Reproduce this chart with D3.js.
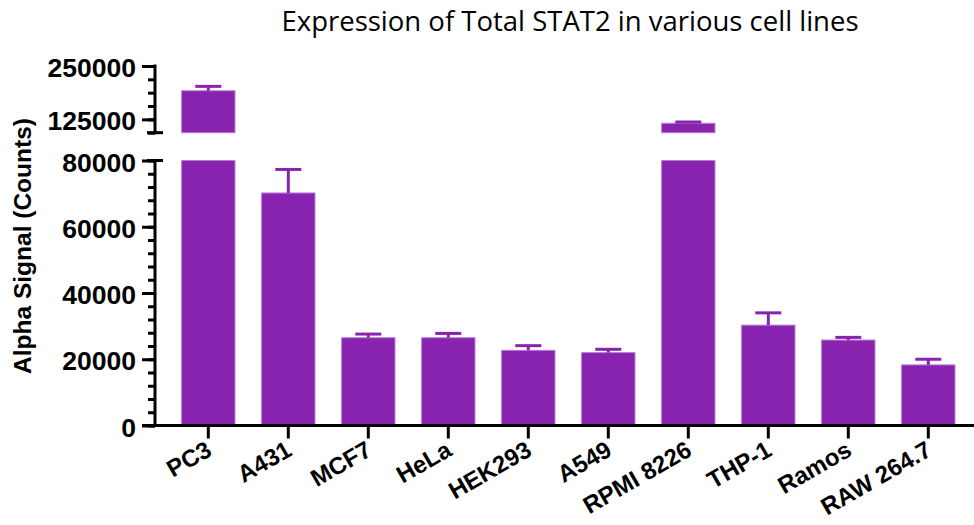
<!DOCTYPE html>
<html>
<head>
<meta charset="utf-8">
<script src="https://cdn.jsdelivr.net/npm/d3@7"></script>
<style>
  body { margin: 0; background: #fff; }
  svg { display: block; }
</style>
</head>
<body>
<svg id="chart" width="974" height="525"></svg>
<script>
// data
const cells = ["PC3", "A431", "MCF7", "HeLa", "HEK293", "A549", "RPMI 8226", "THP-1", "Ramos", "RAW 264.7"];
const means = [192000, 70200, 26500, 26500, 22700, 22000, 115800, 30300, 25800, 18300];
const errors = [10300, 7100, 1100, 1300, 1400, 1000, 3000, 3700, 800, 1700];

const lowTicks = [0, 20000, 40000, 60000, 80000];
const lowMinor = d3.range(0, 80001, 4000);
const highTicks = [125000, 250000];
const highMinor = [93750, 125000, 156250, 187500, 218750, 250000];

const title = "Expression of Total STAT2 in various cell lines";
const yTitle = "Alpha Signal (Counts)";

const barFill = "#8723ae";
const barEdge = "#b77fd4";
const axisX = 155;

let svg = d3.select("#chart");
let data = cells.map((c, i) => ({name: c, mean: means[i], err: errors[i]}));

let x = d3.scaleBand()
    .domain(cells)
    .range([168.3, 968.3])
    .paddingInner(0.333)
    .paddingOuter(0.1665);

let yLow = d3.scaleLinear().domain([0, 80000]).range([425.5, 160.5]);
let yHigh = d3.scaleLinear().domain([93750, 250000]).range([132.7, 66]);
let breakAt = yLow.domain()[1]; // values above this jump to the upper segment

// bars, lower segment (clipped at 80000)
svg.append("g")
    .selectAll("rect")
    .data(data)
    .join("rect")
    .attr("x", d => x(d.name))
    .attr("y", d => yLow(Math.min(d.mean, breakAt)))
    .attr("width", x.bandwidth())
    .attr("height", d => yLow(0) - yLow(Math.min(d.mean, breakAt)))
    .attr("fill", barFill)
    .attr("stroke", barEdge)
    .attr("stroke-width", 1);

// bars, upper segment
svg.append("g")
    .selectAll("rect")
    .data(data.filter(d => d.mean > breakAt))
    .join("rect")
    .attr("x", d => x(d.name))
    .attr("y", d => yHigh(d.mean))
    .attr("width", x.bandwidth())
    .attr("height", d => yHigh(yHigh.domain()[0]) - yHigh(d.mean))
    .attr("fill", barFill)
    .attr("stroke", barEdge)
    .attr("stroke-width", 1);

// error bars (upper half only)
let ys = d => d.mean > breakAt ? yHigh : yLow;
let errG = svg.append("g")
    .attr("stroke", barFill)
    .attr("stroke-width", 3);

errG.selectAll("line.stem")
    .data(data)
    .join("line")
    .attr("class", "stem")
    .attr("x1", d => x(d.name) + x.bandwidth() / 2)
    .attr("x2", d => x(d.name) + x.bandwidth() / 2)
    .attr("y1", d => ys(d)(d.mean))
    .attr("y2", d => ys(d)(d.mean + d.err));

errG.selectAll("line.cap")
    .data(data)
    .join("line")
    .attr("class", "cap")
    .attr("x1", d => x(d.name) + x.bandwidth() / 2 - 13)
    .attr("x2", d => x(d.name) + x.bandwidth() / 2 + 13)
    .attr("y1", d => ys(d)(d.mean + d.err))
    .attr("y2", d => ys(d)(d.mean + d.err));

// y axes
function drawAxis(scale, majors, minors) {
    let g = svg.append("g").attr("transform", `translate(${axisX},0)`);
    g.append("g")
        .call(d3.axisLeft(scale).tickValues(minors).tickSize(7).tickFormat(""))
        .call(a => a.select(".domain").remove());
    g.append("g")
        .call(d3.axisLeft(scale).tickValues(majors).tickSize(13).tickPadding(6).tickFormat(d3.format("d")))
        .call(a => a.select(".domain").remove())
        .call(a => a.selectAll("text")
            .attr("dy", "0.4em")
            .style("font", "bold 26.5px 'Liberation Sans', Arial, sans-serif")
            .attr("fill", "#000"));
    g.selectAll("line").attr("stroke", "#000").attr("stroke-width", 3);
    let [r0, r1] = scale.range();
    g.append("line")
        .attr("y1", r0 + 1.5).attr("y2", r1 - 1.5)
        .attr("stroke", "#000").attr("stroke-width", 3);
    return g;
}

let lowG = drawAxis(yLow, lowTicks, lowMinor);
let highG = drawAxis(yHigh, highTicks, highMinor);

// end caps at the break
lowG.append("line")
    .attr("x1", -8).attr("x2", 8)
    .attr("y1", yLow(80000)).attr("y2", yLow(80000))
    .attr("stroke", "#000").attr("stroke-width", 3);
highG.append("line")
    .attr("x1", -8).attr("x2", 8)
    .attr("y1", yHigh(93750)).attr("y2", yHigh(93750))
    .attr("stroke", "#000").attr("stroke-width", 3);

// x axis
let xG = svg.append("g").attr("transform", `translate(0,${yLow(0)})`);
xG.append("line")
    .attr("x1", 142).attr("x2", 974)
    .attr("stroke", "#000").attr("stroke-width", 3);
xG.selectAll("line.tick")
    .data(cells)
    .join("line")
    .attr("class", "tick")
    .attr("x1", d => x(d) + x.bandwidth() / 2)
    .attr("x2", d => x(d) + x.bandwidth() / 2)
    .attr("y1", 0).attr("y2", 13)
    .attr("stroke", "#000").attr("stroke-width", 3);
xG.selectAll("text")
    .data(cells)
    .join("text")
    .attr("transform", d => `translate(${x(d) + x.bandwidth() / 2 + 5},29) rotate(-30)`)
    .attr("text-anchor", "end")
    .style("font", "bold 24px 'Liberation Sans', Arial, sans-serif")
    .text(d => d);

// titles
svg.append("text")
    .attr("x", 570).attr("y", 31)
    .attr("text-anchor", "middle")
    .style("font", "27.5px 'Open Sans', Lato, sans-serif")
    .text(title);

svg.append("text")
    .attr("transform", "translate(31,246) rotate(-90)")
    .attr("text-anchor", "middle")
    .style("font", "bold 24.5px 'Liberation Sans', Arial, sans-serif")
    .text(yTitle);
</script>
</body>
</html>
